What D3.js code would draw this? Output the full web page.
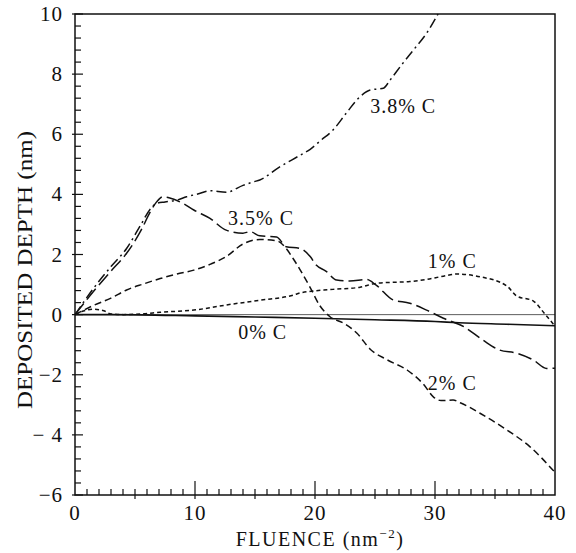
<!DOCTYPE html>
<html>
    <head>
        <script src="https://d3js.org/d3.v7.min.js"></script>
        <style>

        html, body {
            margin: 0;
            padding: 0;
            background: #fff;
        }

        #chart text {
            font-family: "Liberation Serif", "Times New Roman", Times, "DejaVu Serif", serif;
            fill: #111;
        }

        </style>
    </head>
<body>

<svg id="chart"></svg>

<script>

    // tick values / labels
    var xTicks = [0, 10, 20, 30, 40],
        yTicks = [10, 8, 6, 4, 2, 0, -2, -4, -6],
        yTickLabels = ['10', '8', '6', '4', '2', '0', '\u22122', '\u2212 4', '\u22126'];

    // curves as [fluence, depth]
    var c0 = [[0, 0], [3, 0], [10, -0.04], [15, -0.08], [20, -0.12], [25, -0.17],
              [30, -0.23], [32, -0.27], [36, -0.32], [40, -0.37]];

    var c1 = [[0, 0], [0.7, 0.12], [1.5, 0.18], [2.4, 0.13], [2.9, 0.03], [4, 0], [5.7, 0.03],
              [7.1, 0.08], [9.9, 0.15], [12.6, 0.32], [15.4, 0.48], [18.2, 0.65], [18.75, 0.72],
              [21.5, 0.84], [23.75, 0.91], [24.9, 1.03], [25.7, 1.06], [27.9, 1.1], [29.3, 1.17],
              [30.7, 1.28], [31.8, 1.35], [33.75, 1.26], [36, 0.95], [36.8, 0.62], [38.2, 0.45],
              [39.2, 0], [40, -0.38]];

    var c2 = [[0, 0], [1.5, 0.3], [3, 0.55], [4.3, 0.82], [5.7, 1.02], [7.1, 1.2], [8.5, 1.35],
              [9.9, 1.48], [11.3, 1.68], [12.6, 1.93], [14, 2.35], [15.4, 2.5], [16.8, 2.46],
              [17.5, 2.25], [18.2, 1.85], [18.75, 1.5], [19.6, 0.9], [20.4, 0.3], [21.25, -0.07],
              [22.4, -0.29], [23.5, -0.62], [24.6, -1.15], [26, -1.5], [27.7, -1.85], [29, -2.3],
              [29.9, -2.75], [30.5, -2.86], [31.5, -2.84], [32.1, -2.93], [33.75, -3.28],
              [36, -3.84], [37.9, -4.39], [40, -5.25]];

    var c35 = [[0, 0], [1.5, 0.75], [3, 1.45], [4.3, 2.04], [5.5, 2.8], [6.25, 3.4], [6.8, 3.75],
               [7.3, 3.92], [7.9, 3.88], [9, 3.7], [9.9, 3.48], [11.25, 3.2], [12.6, 2.81],
               [14, 2.71], [14.6, 2.76], [15.4, 2.62], [16.8, 2.58], [17.6, 2.26], [18.75, 2.2],
               [19.6, 1.93], [20.1, 1.65], [20.9, 1.45], [21.8, 1.15], [22.9, 1.12], [24.3, 1.17],
               [25.1, 0.98], [26.5, 0.49], [27.9, 0.38], [29.3, 0.15], [30.7, -0.12], [32.4, -0.4],
               [34, -0.85], [35.4, -1.18], [36.8, -1.28], [38.2, -1.51], [39.3, -1.79], [40, -1.78]];

    var c38 = [[0, 0], [1.5, 0.85], [3, 1.6], [4.3, 2.2], [5.5, 3.0], [6.25, 3.5], [6.8, 3.7],
               [7.5, 3.75], [8.5, 3.81], [9.3, 3.92], [10.3, 4.02], [11.25, 4.12], [12.6, 4.07],
               [14, 4.3], [14.9, 4.42], [15.4, 4.48], [17, 4.9], [18.75, 5.3], [19.6, 5.5],
               [20.5, 5.8], [21.5, 6.14], [22.6, 6.7], [23.75, 7.25], [24.6, 7.47], [25.7, 7.53],
               [26.25, 7.8], [27.2, 8.3], [28.2, 8.8], [29.3, 9.36], [30.25, 10.0]];

    var seriesNames = ['0% C', '1% C', '2% C', '3.5% C', '3.8% C'];

    var width = 576,
        height = 553,
        margin = {top: 14, right: 21, bottom: 58, left: 75},
        serif = '"Liberation Serif", "Times New Roman", Times, "DejaVu Serif", serif';

    var svg = d3.select('#chart')
        .attr('width', width)
        .attr('height', height)
        .attr('font-family', serif);

    var x = d3.scaleLinear().domain([0, 40]).range([margin.left, width - margin.right]);
    var y = d3.scaleLinear().domain([-6, 10]).range([height - margin.bottom, margin.top]);

    var line = d3.line()
        .x(function(d) { return x(d[0]); })
        .y(function(d) { return y(d[1]); })
        .curve(d3.curveMonotoneX);

    // zero line
    svg.append('line')
        .attr('x1', x(0)).attr('x2', x(40))
        .attr('y1', y(0)).attr('y2', y(0))
        .attr('stroke', '#333')
        .attr('stroke-width', 0.8);

    // curves
    var styles = [
        {data: c0, dash: null, w: 1.6},
        {data: c1, dash: '4,3', w: 1.5},
        {data: c2, dash: '7,4', w: 1.5},
        {data: c35, dash: '14,5', w: 1.5},
        {data: c38, dash: '10,4,2,4', w: 1.5}
    ];

    svg.append('g').selectAll('path')
        .data(styles)
        .join('path')
        .attr('d', function(s) { return line(s.data); })
        .attr('fill', 'none')
        .attr('stroke', '#111')
        .attr('stroke-width', function(s) { return s.w; })
        .attr('stroke-dasharray', function(s) { return s.dash; });

    // frame
    svg.append('rect')
        .attr('x', x(0)).attr('y', y(10))
        .attr('width', x(40) - x(0))
        .attr('height', y(-6) - y(10))
        .attr('fill', 'none')
        .attr('stroke', '#111')
        .attr('stroke-width', 1.5);

    // bottom ticks: every 1, longer every 5 and 10
    var ticks = svg.append('g').attr('stroke', '#111').attr('stroke-width', 1.2);
    d3.range(1, 40).forEach(function(v) {
        var up = v % 10 === 0 ? 14 : 6,
            down = v % 5 === 0 ? 4 : 0;
        ticks.append('line')
            .attr('x1', x(v)).attr('x2', x(v))
            .attr('y1', y(-6) - up).attr('y2', y(-6) + down);
    });

    // left ticks: every 0.4, longer every 2
    d3.range(-6, 10.01, 0.4).forEach(function(v) {
        var major = Math.abs(v / 2 - Math.round(v / 2)) < 1e-6;
        ticks.append('line')
            .attr('x1', x(0) - (major ? 3 : 0)).attr('x2', x(0) + (major ? 8 : 6))
            .attr('y1', y(v)).attr('y2', y(v));
    });

    // tick labels
    svg.append('g').selectAll('text')
        .data(xTicks)
        .join('text')
        .attr('x', function(d) { return x(d); })
        .attr('y', y(-6) + 25)
        .attr('text-anchor', 'middle')
        .attr('font-size', 21)
        .attr('letter-spacing', 1)
        .text(function(d) { return d; });

    svg.append('g').selectAll('text')
        .data(yTicks)
        .join('text')
        .attr('x', x(0) - 12)
        .attr('y', function(d) { return y(d) + 7; })
        .attr('text-anchor', 'end')
        .attr('font-size', 21)
        .attr('letter-spacing', 1)
        .text(function(d, i) { return yTickLabels[i]; });

    // axis titles
    var xt = svg.append('text')
        .attr('x', 320)
        .attr('y', 546)
        .attr('text-anchor', 'middle')
        .attr('font-size', 20)
        .attr('letter-spacing', 1.5);
    xt.append('tspan').text('FLUENCE (nm');
    xt.append('tspan').attr('font-size', 13).attr('dy', -8).text('\u22122');
    xt.append('tspan').attr('dy', 8).text(')');

    svg.append('text')
        .attr('transform', 'translate(32,270) rotate(-90)')
        .attr('text-anchor', 'middle')
        .attr('font-size', 20)
        .attr('textLength', 278)
        .attr('lengthAdjust', 'spacingAndGlyphs')
        .text('DEPOSITED DEPTH (nm)');

    // curve labels
    var labelPos = [[13.6, -0.8], [29.4, 1.55], [29.4, -2.5], [12.75, 2.98], [24.6, 6.7]];
    svg.append('g').selectAll('text')
        .data(seriesNames)
        .join('text')
        .attr('x', function(d, i) { return x(labelPos[i][0]); })
        .attr('y', function(d, i) { return y(labelPos[i][1]); })
        .attr('font-size', 20)
        .attr('letter-spacing', 1)
        .text(function(d) { return d; });

</script>
</body>
</html>
